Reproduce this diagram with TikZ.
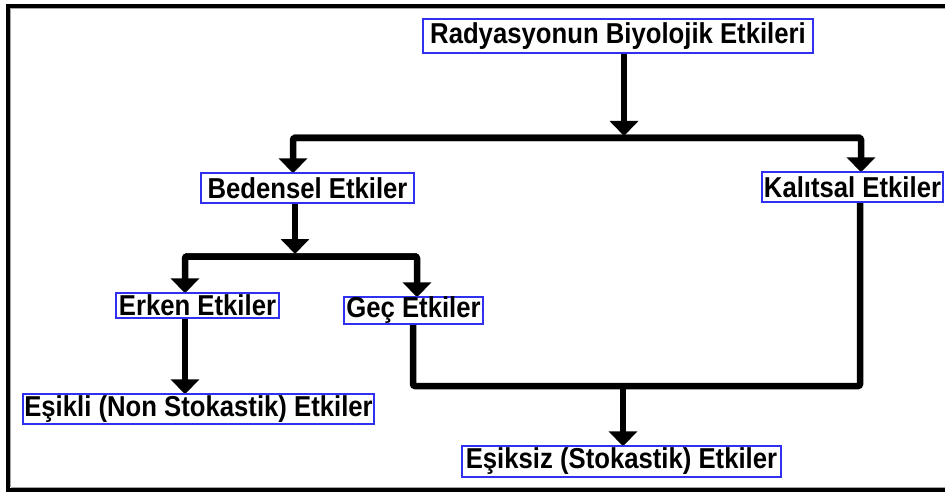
\documentclass[tikz,border=0pt]{standalone}
\usepackage{fontspec}
\setmainfont{Liberation Sans}
\usetikzlibrary{arrows.meta,backgrounds}
\definecolor{boxblue}{RGB}{48,48,240}
\newcommand{\tallt}[1]{\scalebox{1}[1.12]{#1}}
\begin{document}
\begin{tikzpicture}[x=1pt,y=-1pt,
  lbl/.style={draw=boxblue,line width=1.4pt,fill=white,inner sep=0pt,
    font=\fontsize{25.7}{28}\selectfont\bfseries,anchor=center},
  conn/.style={line width=6.5pt,rounded corners=2pt},
  arr/.style={conn,-{Triangle[width=28pt,length=15pt]},shorten >=-1pt}]
\useasboundingbox (0,0) rectangle (945,492);
% nodes
\node[lbl,minimum width=390pt,minimum height=34pt] (root) at (618,36) {\tallt{Radyasyonun Biyolojik Etkileri}};
\node[lbl,minimum width=213pt,minimum height=30pt] (bed) at (307.5,188) {\tallt{Bedensel Etkiler}};
\node[lbl,minimum width=181pt,minimum height=30pt] (kal) at (852.5,187) {\tallt{Kalıtsal Etkiler}};
\node[lbl,minimum width=163pt,minimum height=25pt] (erk) at (197.5,305.5) {\tallt{Erken Etkiler}};
\node[lbl,minimum width=139pt,minimum height=27pt] (gec) at (413.5,310.5) {\tallt{Geç Etkiler}};
\node[lbl,minimum width=351pt,minimum height=30pt] (esk) at (198.5,409) {\tallt{Eşikli (Non Stokastik) Etkiler}};
\node[lbl,minimum width=319pt,minimum height=31pt] (esz) at (621.5,461.5) {\tallt{Eşiksiz (Stokastik) Etkiler}};
% junction coordinates
\coordinate (j1) at (624,135);
\coordinate (h1l) at (293,138);
\coordinate (h1r) at (861,138);
\coordinate (j2) at (295,253);
\coordinate (h2l) at (185,256.5);
\coordinate (h2r) at (417,256.5);
\coordinate (h3l) at (413,386);
\coordinate (h3r) at (860,386);
\coordinate (j3) at (623,386);
\begin{pgfonlayer}{background}
\fill[white] (0,0) rectangle (945,492);
% frame
\draw[line width=4pt] (8,6) -- (960,6);
\draw[line width=4pt] (8,4) -- (8,491);
\draw[line width=4pt] (6,489.5) -- (960,489.5);
\draw[gray!70,line width=0.8pt] (10.5,8.5) -- (960,8.5);
\draw[gray!70,line width=0.8pt] (10.5,8.5) -- (10.5,487);
\draw[gray!70,line width=0.8pt] (10.5,487) -- (960,487);
% connectors
\draw[arr] (root.south -| j1) -- (j1);
\draw[arr] (h1r) -- (h1l) -- (h1l |- bed.north);
\draw[arr] (h1l) -- (h1r) -- (h1r |- kal.north);
\draw[arr] (bed.south -| j2) -- (j2);
\draw[arr] (h2r) -- (h2l) -- (h2l |- erk.north);
\draw[arr] (h2l) -- (h2r) -- (h2r |- gec.north);
\draw[arr] (erk.south -| h2l) -- (h2l |- esk.north);
\draw[conn] (gec.south -| h3l) -- (h3l) -- (h3r) -- (kal.south -| h3r);
\draw[arr] (j3) -- (esz.north -| j3);
\end{pgfonlayer}
\end{tikzpicture}
\end{document}
